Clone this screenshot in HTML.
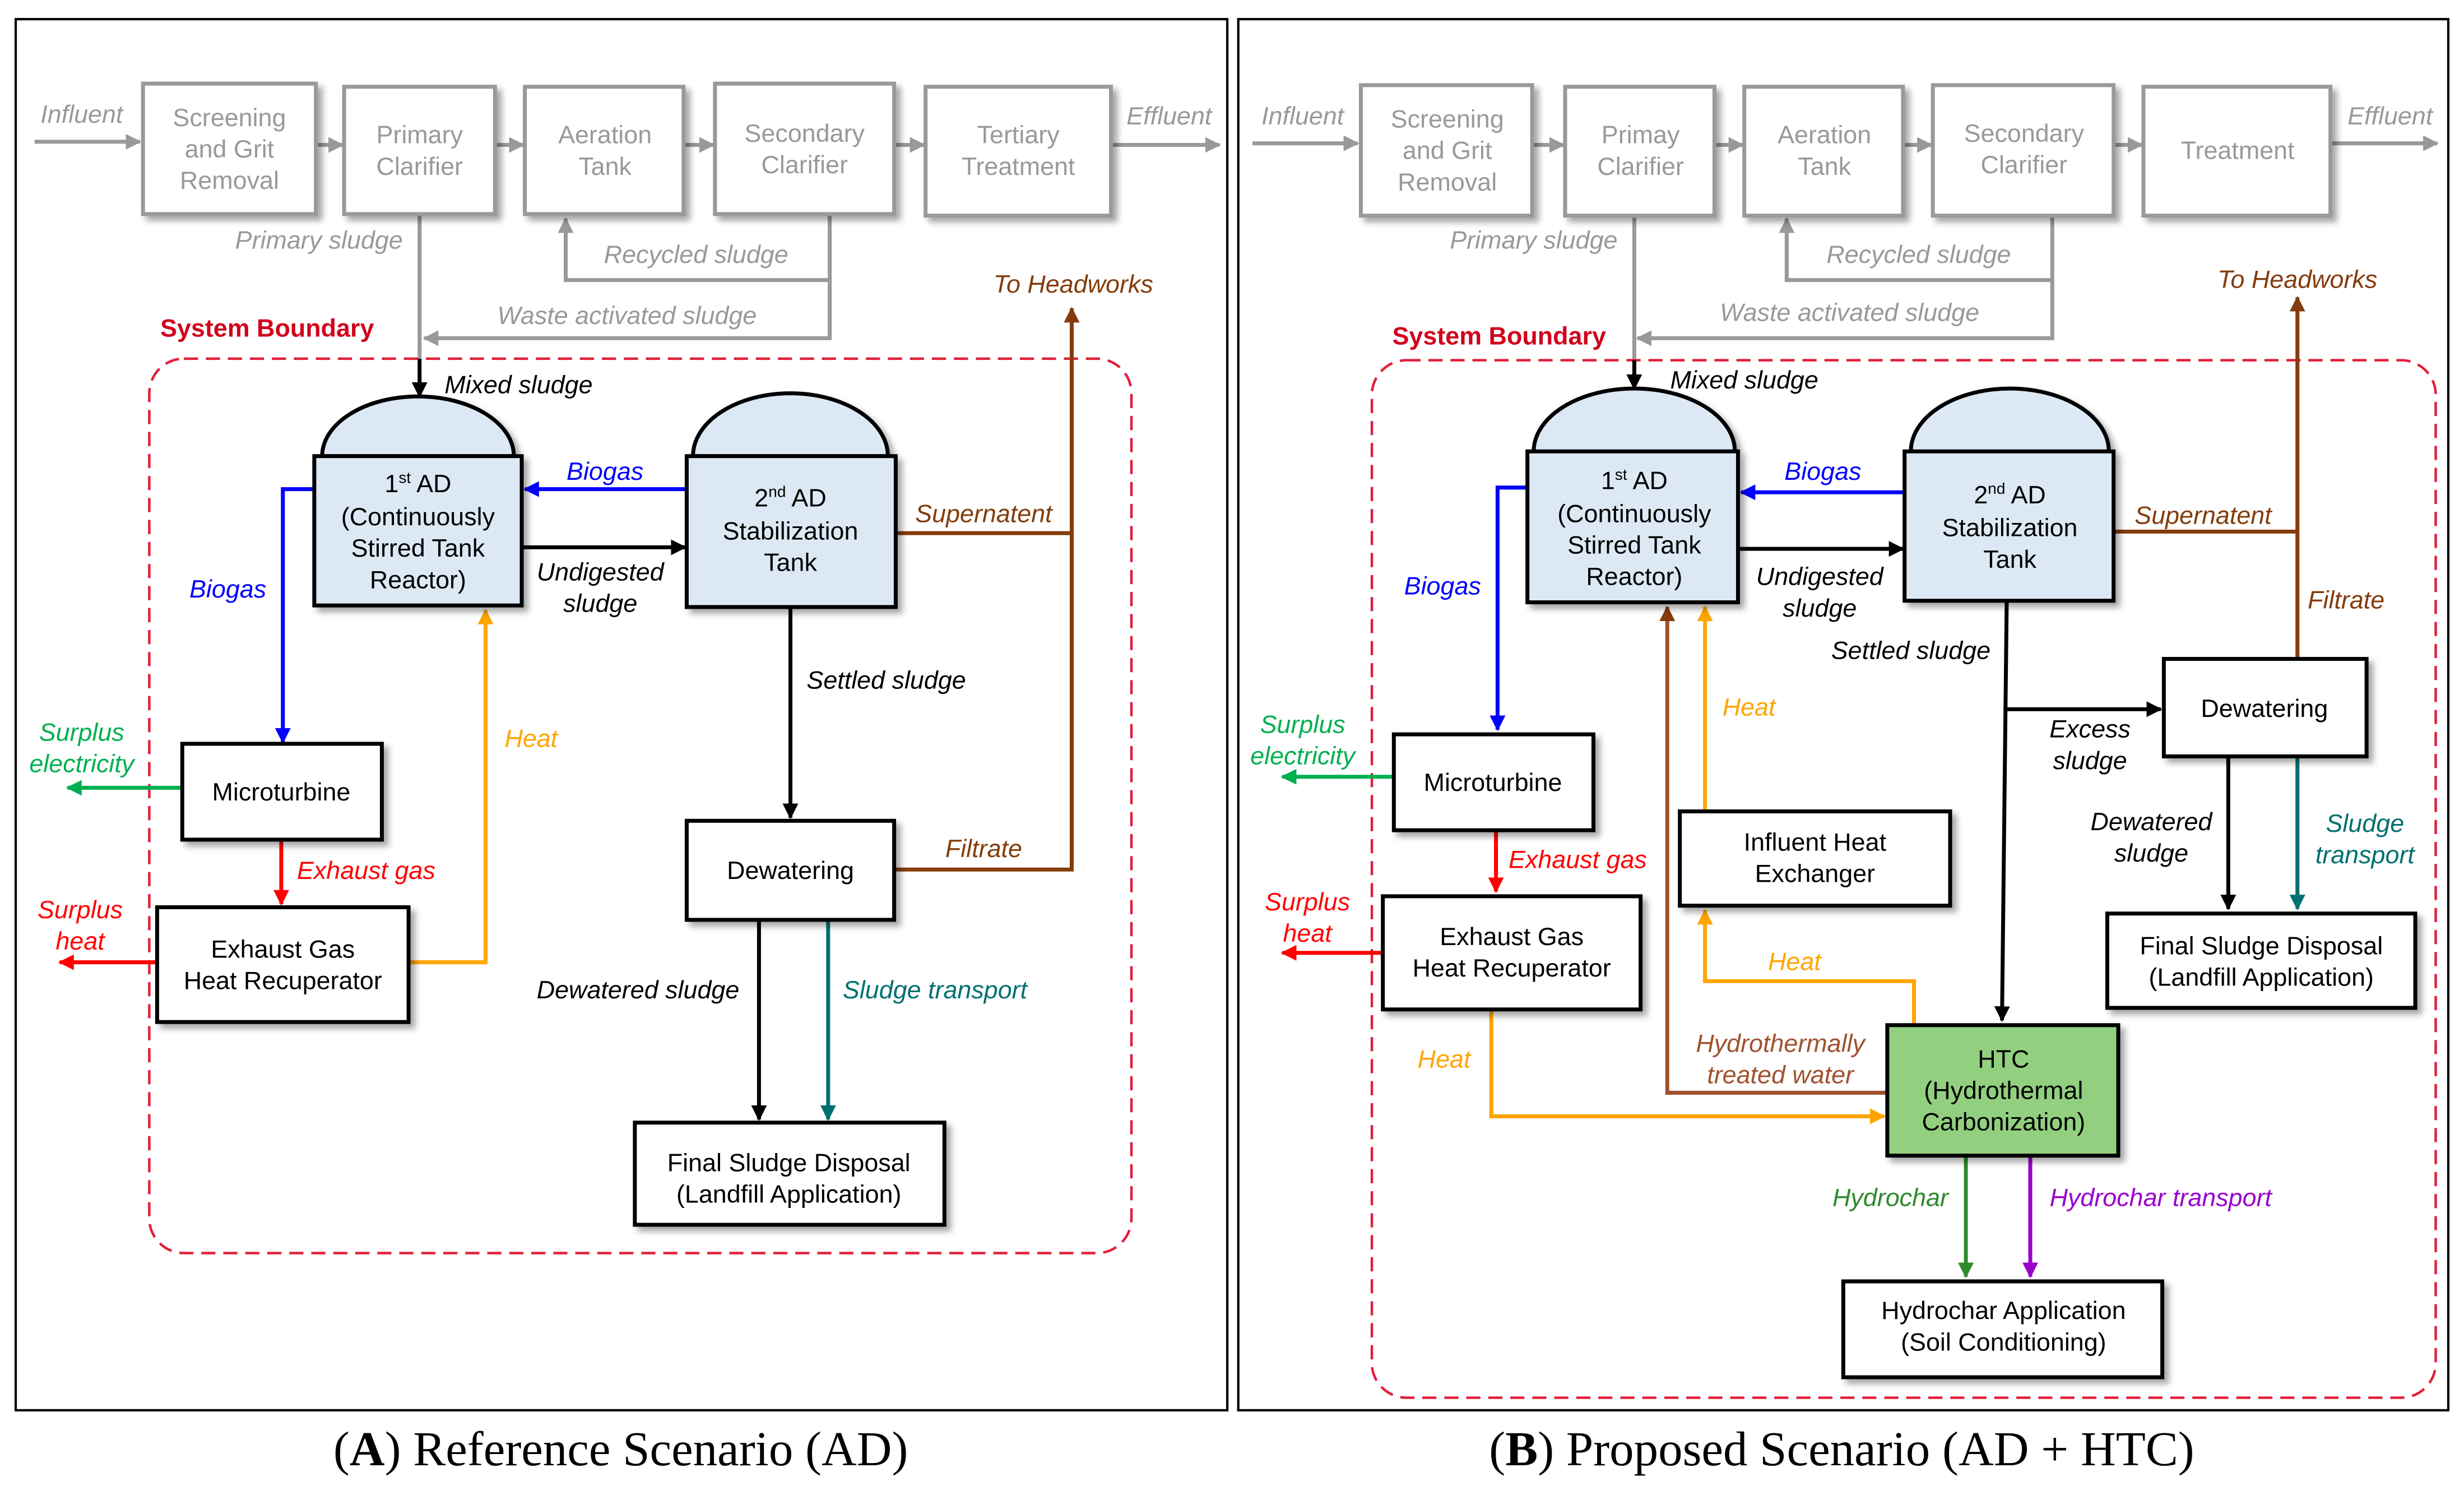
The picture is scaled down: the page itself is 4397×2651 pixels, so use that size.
<!DOCTYPE html>
<html><head><meta charset="utf-8"><style>
html,body{margin:0;padding:0;background:#fff;}
svg{display:block;}
text{font-family:"Liberation Sans Narrow","Liberation Sans",sans-serif;font-size:16px;}
.g{fill:#999;font-style:italic;}
.it{font-style:italic;}
.bx{fill:#fff;stroke:#000;stroke-width:2.5;}
.gb{fill:#fff;stroke:#999;stroke-width:2.5;}
.gt{fill:#999;text-anchor:middle;}
.c{text-anchor:middle;}
.ad{fill:#dce9f5;stroke:#000;stroke-width:2.5;}
</style></head><body>
<svg width="4397" height="2651" viewBox="0 0 1568 945" xmlns="http://www.w3.org/2000/svg">
<defs>
<marker id="mk" markerWidth="10" markerHeight="10" refX="9" refY="5" orient="auto" markerUnits="userSpaceOnUse"><path d="M0,0 L10,5 L0,10z" fill="#000"/></marker>
<marker id="mg" markerWidth="10" markerHeight="10" refX="9" refY="5" orient="auto" markerUnits="userSpaceOnUse"><path d="M0,0 L10,5 L0,10z" fill="#999"/></marker>
<marker id="mb" markerWidth="10" markerHeight="10" refX="9" refY="5" orient="auto" markerUnits="userSpaceOnUse"><path d="M0,0 L10,5 L0,10z" fill="#0000ff"/></marker>
<marker id="mr" markerWidth="10" markerHeight="10" refX="9" refY="5" orient="auto" markerUnits="userSpaceOnUse"><path d="M0,0 L10,5 L0,10z" fill="#ff0000"/></marker>
<marker id="mgr" markerWidth="10" markerHeight="10" refX="9" refY="5" orient="auto" markerUnits="userSpaceOnUse"><path d="M0,0 L10,5 L0,10z" fill="#00b050"/></marker>
<marker id="mo" markerWidth="10" markerHeight="10" refX="9" refY="5" orient="auto" markerUnits="userSpaceOnUse"><path d="M0,0 L10,5 L0,10z" fill="#ffa500"/></marker>
<marker id="mbr" markerWidth="10" markerHeight="10" refX="9" refY="5" orient="auto" markerUnits="userSpaceOnUse"><path d="M0,0 L10,5 L0,10z" fill="#843c0c"/></marker>
<marker id="mt" markerWidth="10" markerHeight="10" refX="9" refY="5" orient="auto" markerUnits="userSpaceOnUse"><path d="M0,0 L10,5 L0,10z" fill="#007070"/></marker>
<marker id="mhg" markerWidth="10" markerHeight="10" refX="9" refY="5" orient="auto" markerUnits="userSpaceOnUse"><path d="M0,0 L10,5 L0,10z" fill="#2e8b2e"/></marker>
<marker id="mp" markerWidth="10" markerHeight="10" refX="9" refY="5" orient="auto" markerUnits="userSpaceOnUse"><path d="M0,0 L10,5 L0,10z" fill="#9900cc"/></marker>
<filter id="ds" x="-10%" y="-10%" width="130%" height="130%"><feDropShadow dx="3" dy="3" stdDeviation="2" flood-color="#000" flood-opacity="0.35"/></filter>
</defs>

<rect x="10" y="12" width="771" height="885" fill="none" stroke="#000" stroke-width="1.5"/>
<rect x="788" y="12" width="770" height="885" fill="none" stroke="#000" stroke-width="1.5"/>
<text x="395" y="932" text-anchor="middle" style="font-family:'Liberation Serif',serif;font-size:31px">(<tspan font-weight="bold">A</tspan>) Reference Scenario (AD)</text>
<text x="1172" y="932" text-anchor="middle" style="font-family:'Liberation Serif',serif;font-size:31px">(<tspan font-weight="bold">B</tspan>) Proposed Scenario (AD + HTC)</text>

<!-- ===== PANEL A ===== -->
<g fill="none" stroke="#999" stroke-width="2.5">
<line x1="22" y1="90" x2="89" y2="90" marker-end="url(#mg)"/>
<line x1="201" y1="92" x2="218" y2="92" marker-end="url(#mg)"/>
<line x1="315" y1="92" x2="333" y2="92" marker-end="url(#mg)"/>
<line x1="435" y1="92" x2="454" y2="92" marker-end="url(#mg)"/>
<line x1="569" y1="92" x2="588" y2="92" marker-end="url(#mg)"/>
<line x1="707" y1="92" x2="776" y2="92" marker-end="url(#mg)"/>
<polyline points="528,137 528,178 360,178 360,139" marker-end="url(#mg)"/>
<polyline points="528,178 528,215 270,215" marker-end="url(#mg)"/>
<line x1="267" y1="137" x2="267" y2="228"/>
</g>
<g filter="url(#ds)">
<rect class="gb" x="91" y="53" width="110" height="83"/>
<rect class="gb" x="219" y="55" width="96" height="81"/>
<rect class="gb" x="334" y="55" width="101" height="81"/>
<rect class="gb" x="455" y="53" width="114" height="83"/>
<rect class="gb" x="589" y="55" width="118" height="82"/>
</g>
<text class="gt" x="146" y="80">Screening</text><text class="gt" x="146" y="100">and Grit</text><text class="gt" x="146" y="120">Removal</text>
<text class="gt" x="267" y="91">Primary</text><text class="gt" x="267" y="111">Clarifier</text>
<text class="gt" x="385" y="91">Aeration</text><text class="gt" x="385" y="111">Tank</text>
<text class="gt" x="512" y="90">Secondary</text><text class="gt" x="512" y="110">Clarifier</text>
<text class="gt" x="648" y="91">Tertiary</text><text class="gt" x="648" y="111">Treatment</text>
<text class="g" x="52" y="78" text-anchor="middle">Influent</text>
<text class="g" x="744" y="79" text-anchor="middle">Effluent</text>
<text class="g" x="203" y="158" text-anchor="middle">Primary sludge</text>
<text class="g" x="443" y="167" text-anchor="middle">Recycled sludge</text>
<text class="g" x="399" y="206" text-anchor="middle">Waste activated sludge</text>

<text x="170" y="214" text-anchor="middle" fill="#d0021b" font-weight="bold" style="font-family:'Liberation Sans',sans-serif;font-size:16px">System Boundary</text>
<rect x="95" y="228" width="625" height="569" rx="22" fill="none" stroke="#e0203a" stroke-width="1.6" stroke-dasharray="9,5"/>

<g fill="none" stroke-width="2.5">
<line x1="267" y1="228" x2="267" y2="252" stroke="#000" marker-end="url(#mk)"/>
<line x1="437" y1="311" x2="334" y2="311" stroke="#0000ff" marker-end="url(#mb)"/>
<line x1="332" y1="348" x2="436" y2="348" stroke="#000" marker-end="url(#mk)"/>
<polyline points="200,311 180,311 180,472" stroke="#0000ff" marker-end="url(#mb)"/>
<line x1="570" y1="339" x2="682" y2="339" stroke="#843c0c"/>
<polyline points="569,553 682,553 682,196" stroke="#843c0c" marker-end="url(#mbr)"/>
<line x1="503" y1="386" x2="503" y2="520" stroke="#000" marker-end="url(#mk)"/>
<line x1="483" y1="585" x2="483" y2="712" stroke="#000" marker-end="url(#mk)"/>
<line x1="527" y1="585" x2="527" y2="712" stroke="#007070" marker-end="url(#mt)"/>
<line x1="116" y1="501" x2="43" y2="501" stroke="#00b050" marker-end="url(#mgr)"/>
<line x1="179" y1="535" x2="179" y2="575" stroke="#ff0000" marker-end="url(#mr)"/>
<line x1="100" y1="612" x2="38" y2="612" stroke="#ff0000" marker-end="url(#mr)"/>
<polyline points="260,612 309,612 309,388" stroke="#ffa500" marker-end="url(#mo)"/>
</g>
<g filter="url(#ds)">
<path class="ad" d="M205,290 A61,38 0 0 1 327,290 Z"/>
<rect class="ad" x="200" y="290" width="132" height="95"/>
<path class="ad" d="M441,290 A62,40 0 0 1 565,290 Z"/>
<rect class="ad" x="437" y="290" width="133" height="96"/>
<rect class="bx" x="437" y="522" width="132" height="63"/>
<rect class="bx" x="404" y="714" width="197" height="65"/>
<rect class="bx" x="116" y="473" width="127" height="61"/>
<rect class="bx" x="100" y="577" width="160" height="73"/>
</g>
<text class="c" x="266" y="313">1<tspan font-size="10" dy="-6">st</tspan><tspan dy="6"> AD</tspan></text>
<text class="c" x="266" y="334">(Continuously</text><text class="c" x="266" y="354">Stirred Tank</text><text class="c" x="266" y="374">Reactor)</text>
<text class="c" x="503" y="322">2<tspan font-size="10" dy="-6">nd</tspan><tspan dy="6"> AD</tspan></text>
<text class="c" x="503" y="343">Stabilization</text><text class="c" x="503" y="363">Tank</text>
<text class="c" x="503" y="559">Dewatering</text>
<text class="c" x="502" y="745">Final Sludge Disposal</text><text class="c" x="502" y="765">(Landfill Application)</text>
<text class="c" x="179" y="509">Microturbine</text>
<text class="c" x="180" y="609">Exhaust Gas</text><text class="c" x="180" y="629">Heat Recuperator</text>
<text class="it" x="330" y="250" text-anchor="middle">Mixed sludge</text>
<text class="it" x="385" y="305" text-anchor="middle" fill="#0000ff">Biogas</text>
<text class="it" x="382" y="369" text-anchor="middle">Undigested</text><text class="it" x="382" y="389" text-anchor="middle">sludge</text>
<text class="it" x="145" y="380" text-anchor="middle" fill="#0000ff">Biogas</text>
<text class="it" x="626" y="332" text-anchor="middle" fill="#843c0c">Supernatent</text>
<text class="it" x="683" y="186" text-anchor="middle" fill="#843c0c">To Headworks</text>
<text class="it" x="564" y="438" text-anchor="middle">Settled sludge</text>
<text class="it" x="626" y="545" text-anchor="middle" fill="#843c0c">Filtrate</text>
<text class="it" x="406" y="635" text-anchor="middle">Dewatered sludge</text>
<text class="it" x="595" y="635" text-anchor="middle" fill="#007070">Sludge transport</text>
<text class="it" x="52" y="471" text-anchor="middle" fill="#00b050">Surplus</text><text class="it" x="52" y="491" text-anchor="middle" fill="#00b050">electricity</text>
<text class="it" x="233" y="559" text-anchor="middle" fill="#ff0000">Exhaust gas</text>
<text class="it" x="51" y="584" text-anchor="middle" fill="#ff0000">Surplus</text><text class="it" x="51" y="604" text-anchor="middle" fill="#ff0000">heat</text>
<text class="it" x="338" y="475" text-anchor="middle" fill="#ffa500">Heat</text>

<!-- ===== PANEL B ===== -->
<g fill="none" stroke="#999" stroke-width="2.5">
<line x1="797" y1="91" x2="864" y2="91" marker-end="url(#mg)"/>
<line x1="975" y1="92" x2="995" y2="92" marker-end="url(#mg)"/>
<line x1="1091" y1="92" x2="1109" y2="92" marker-end="url(#mg)"/>
<line x1="1211" y1="92" x2="1229" y2="92" marker-end="url(#mg)"/>
<line x1="1345" y1="92" x2="1363" y2="92" marker-end="url(#mg)"/>
<line x1="1483" y1="91" x2="1551" y2="91" marker-end="url(#mg)"/>
<polyline points="1306,137 1306,178 1137,178 1137,139" marker-end="url(#mg)"/>
<polyline points="1306,178 1306,215 1042,215" marker-end="url(#mg)"/>
<line x1="1040" y1="137" x2="1040" y2="229"/>
</g>
<g filter="url(#ds)">
<rect class="gb" x="866" y="54" width="109" height="83"/>
<rect class="gb" x="996" y="55" width="95" height="82"/>
<rect class="gb" x="1110" y="55" width="101" height="82"/>
<rect class="gb" x="1230" y="54" width="115" height="83"/>
<rect class="gb" x="1364" y="55" width="119" height="82"/>
</g>
<text class="gt" x="921" y="81">Screening</text><text class="gt" x="921" y="101">and Grit</text><text class="gt" x="921" y="121">Removal</text>
<text class="gt" x="1044" y="91">Primay</text><text class="gt" x="1044" y="111">Clarifier</text>
<text class="gt" x="1161" y="91">Aeration</text><text class="gt" x="1161" y="111">Tank</text>
<text class="gt" x="1288" y="90">Secondary</text><text class="gt" x="1288" y="110">Clarifier</text>
<text class="gt" x="1424" y="101">Treatment</text>
<text class="g" x="829" y="79" text-anchor="middle">Influent</text>
<text class="g" x="1521" y="79" text-anchor="middle">Effluent</text>
<text class="g" x="976" y="158" text-anchor="middle">Primary sludge</text>
<text class="g" x="1221" y="167" text-anchor="middle">Recycled sludge</text>
<text class="g" x="1177" y="204" text-anchor="middle">Waste activated sludge</text>

<text x="954" y="219" text-anchor="middle" fill="#d0021b" font-weight="bold" style="font-family:'Liberation Sans',sans-serif;font-size:16px">System Boundary</text>
<rect x="873" y="229" width="677" height="660" rx="22" fill="none" stroke="#e0203a" stroke-width="1.6" stroke-dasharray="9,5"/>

<g fill="none" stroke-width="2.5">
<line x1="1040" y1="229" x2="1040" y2="247" stroke="#000" marker-end="url(#mk)"/>
<line x1="1212" y1="313" x2="1108" y2="313" stroke="#0000ff" marker-end="url(#mb)"/>
<line x1="1106" y1="349" x2="1211" y2="349" stroke="#000" marker-end="url(#mk)"/>
<polyline points="972,310 953,310 953,464" stroke="#0000ff" marker-end="url(#mb)"/>
<line x1="1345" y1="338" x2="1462" y2="338" stroke="#843c0c"/>
<line x1="1462" y1="418" x2="1462" y2="189" stroke="#843c0c" marker-end="url(#mbr)"/>
<line x1="1277" y1="382" x2="1274" y2="649" stroke="#000" marker-end="url(#mk)"/>
<line x1="1276" y1="451" x2="1375" y2="451" stroke="#000" marker-end="url(#mk)"/>
<line x1="1418" y1="481" x2="1418" y2="578" stroke="#000" marker-end="url(#mk)"/>
<line x1="1462" y1="481" x2="1462" y2="578" stroke="#007070" marker-end="url(#mt)"/>
<line x1="887" y1="494" x2="816" y2="494" stroke="#00b050" marker-end="url(#mgr)"/>
<line x1="952" y1="528" x2="952" y2="567" stroke="#ff0000" marker-end="url(#mr)"/>
<line x1="880" y1="606" x2="816" y2="606" stroke="#ff0000" marker-end="url(#mr)"/>
<polyline points="949,643 949,710 1199,710" stroke="#ffa500" marker-end="url(#mo)"/>
<line x1="1085" y1="516" x2="1085" y2="386" stroke="#ffa500" marker-end="url(#mo)"/>
<polyline points="1218,651 1218,624 1085,624 1085,579" stroke="#ffa500" marker-end="url(#mo)"/>
<polyline points="1201,695 1061,695 1061,386" stroke="#a0522d" marker-end="url(#mbr)"/>
<line x1="1251" y1="735" x2="1251" y2="812" stroke="#2e8b2e" marker-end="url(#mhg)"/>
<line x1="1292" y1="735" x2="1292" y2="812" stroke="#9900cc" marker-end="url(#mp)"/>
</g>
<g filter="url(#ds)">
<path class="ad" d="M976,287 A64,40 0 0 1 1104,287 Z"/>
<rect class="ad" x="972" y="287" width="134" height="96"/>
<path class="ad" d="M1216,287 A63,40 0 0 1 1342,287 Z"/>
<rect class="ad" x="1212" y="287" width="133" height="95"/>
<rect class="bx" x="1377" y="419" width="129" height="62"/>
<rect class="bx" x="1341" y="581" width="196" height="60"/>
<rect class="bx" x="887" y="467" width="127" height="61"/>
<rect class="bx" x="880" y="570" width="164" height="72"/>
<rect class="bx" x="1069" y="516" width="172" height="60"/>
<rect x="1201" y="652" width="147" height="83" fill="#92d07f" stroke="#000" stroke-width="2.5"/>
<rect class="bx" x="1173" y="815" width="203" height="61"/>
</g>
<text class="c" x="1040" y="311">1<tspan font-size="10" dy="-6">st</tspan><tspan dy="6"> AD</tspan></text>
<text class="c" x="1040" y="332">(Continuously</text><text class="c" x="1040" y="352">Stirred Tank</text><text class="c" x="1040" y="372">Reactor)</text>
<text class="c" x="1279" y="320">2<tspan font-size="10" dy="-6">nd</tspan><tspan dy="6"> AD</tspan></text>
<text class="c" x="1279" y="341">Stabilization</text><text class="c" x="1279" y="361">Tank</text>
<text class="c" x="1441" y="456">Dewatering</text>
<text class="c" x="1439" y="607">Final Sludge Disposal</text><text class="c" x="1439" y="627">(Landfill Application)</text>
<text class="c" x="950" y="503">Microturbine</text>
<text class="c" x="962" y="601">Exhaust Gas</text><text class="c" x="962" y="621">Heat Recuperator</text>
<text class="c" x="1155" y="541">Influent Heat</text><text class="c" x="1155" y="561">Exchanger</text>
<text class="c" x="1275" y="679">HTC</text><text class="c" x="1275" y="699">(Hydrothermal</text><text class="c" x="1275" y="719">Carbonization)</text>
<text class="c" x="1275" y="839">Hydrochar Application</text><text class="c" x="1275" y="859">(Soil Conditioning)</text>
<text class="it" x="1110" y="247" text-anchor="middle">Mixed sludge</text>
<text class="it" x="1160" y="305" text-anchor="middle" fill="#0000ff">Biogas</text>
<text class="it" x="1158" y="372" text-anchor="middle">Undigested</text><text class="it" x="1158" y="392" text-anchor="middle">sludge</text>
<text class="it" x="918" y="378" text-anchor="middle" fill="#0000ff">Biogas</text>
<text class="it" x="1402" y="333" text-anchor="middle" fill="#843c0c">Supernatent</text>
<text class="it" x="1462" y="183" text-anchor="middle" fill="#843c0c">To Headworks</text>
<text class="it" x="1493" y="387" text-anchor="middle" fill="#843c0c">Filtrate</text>
<text class="it" x="1216" y="419" text-anchor="middle">Settled sludge</text>
<text class="it" x="1330" y="469" text-anchor="middle">Excess</text><text class="it" x="1330" y="489" text-anchor="middle">sludge</text>
<text class="it" x="1369" y="528" text-anchor="middle">Dewatered</text><text class="it" x="1369" y="548" text-anchor="middle">sludge</text>
<text class="it" x="1505" y="529" text-anchor="middle" fill="#007070">Sludge</text><text class="it" x="1505" y="549" text-anchor="middle" fill="#007070">transport</text>
<text class="it" x="829" y="466" text-anchor="middle" fill="#00b050">Surplus</text><text class="it" x="829" y="486" text-anchor="middle" fill="#00b050">electricity</text>
<text class="it" x="1004" y="552" text-anchor="middle" fill="#ff0000">Exhaust gas</text>
<text class="it" x="832" y="579" text-anchor="middle" fill="#ff0000">Surplus</text><text class="it" x="832" y="599" text-anchor="middle" fill="#ff0000">heat</text>
<text class="it" x="1113" y="455" text-anchor="middle" fill="#ffa500">Heat</text>
<text class="it" x="1142" y="617" text-anchor="middle" fill="#ffa500">Heat</text>
<text class="it" x="919" y="679" text-anchor="middle" fill="#ffa500">Heat</text>
<text class="it" x="1133" y="669" text-anchor="middle" fill="#a0522d">Hydrothermally</text><text class="it" x="1133" y="689" text-anchor="middle" fill="#a0522d">treated water</text>
<text class="it" x="1203" y="767" text-anchor="middle" fill="#2e8b2e">Hydrochar</text>
<text class="it" x="1375" y="767" text-anchor="middle" fill="#9900cc">Hydrochar transport</text>
</svg>
</body></html>
